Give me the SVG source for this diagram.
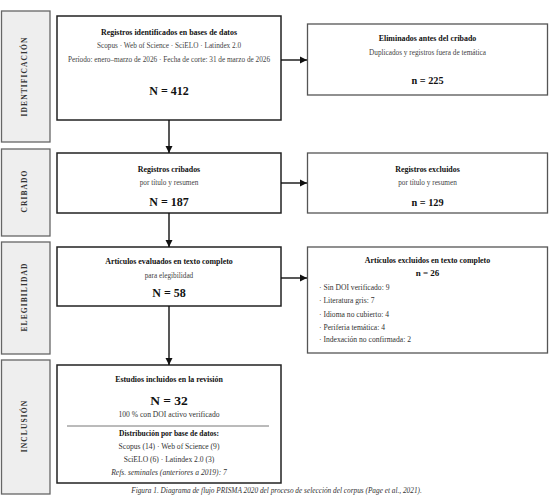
<svg xmlns="http://www.w3.org/2000/svg" width="553" height="502" viewBox="0 0 553 502">
<style>
.panel{fill:#eeeeee;stroke:#666;stroke-width:1.3}
.plabel{font-family:"Liberation Serif",serif;font-weight:bold;font-size:7.5px;letter-spacing:1.1px;fill:#333;text-anchor:middle}
.main{fill:#fff;stroke:#222;stroke-width:1.5}
.side{fill:#fff;stroke:#555;stroke-width:1.3}
text{font-family:"Liberation Serif",serif}
.t{font-weight:bold;font-size:7.9px;fill:#111;text-anchor:middle}
.s{font-size:7.25px;fill:#444;text-anchor:middle}
.big{font-weight:bold;font-size:12px;fill:#111;text-anchor:middle}
.mid{font-weight:bold;font-size:10.3px;fill:#111;text-anchor:middle}
.li{font-size:7.6px;fill:#333}
.d{font-size:7.6px;fill:#333;text-anchor:middle}
.conn{stroke:#111;stroke-width:1.4;fill:none}
</style>
<defs>
<marker id="ah" markerWidth="8" markerHeight="8" refX="7" refY="4" orient="auto" markerUnits="userSpaceOnUse">
<path d="M0,0.5 L7,4 L0,7.5 Z" fill="#111"/>
</marker>
</defs>
<rect width="553" height="502" fill="#fff"/>

<g id="panel-identificacion">
<rect class="panel" x="1.5" y="11" width="48.5" height="131"/>
<text class="plabel" transform="translate(26.5,76.5) rotate(-90)">IDENTIFICACIÓN</text>
</g>
<g id="panel-cribado">
<rect class="panel" x="1.5" y="149" width="48.5" height="87"/>
<text class="plabel" transform="translate(26.5,191) rotate(-90)">CRIBADO</text>
</g>
<g id="panel-elegibilidad">
<rect class="panel" x="1.5" y="242" width="48.5" height="112"/>
<text class="plabel" transform="translate(26.5,297) rotate(-90)">ELEGIBILIDAD</text>
</g>
<g id="panel-inclusion">
<rect class="panel" x="1.5" y="360" width="48.5" height="134"/>
<text class="plabel" transform="translate(26.5,426) rotate(-90)">INCLUSIÓN</text>
</g>

<g id="identificados">
<rect class="main" x="57" y="16" width="224" height="104"/>
<text class="t" x="169" y="35">Registros identificados en bases de datos</text>
<text class="s" x="169" y="48">Scopus · Web of Science · SciELO · Latindex 2.0</text>
<text class="s" x="169" y="62">Período: enero–marzo de 2026 · Fecha de corte: 31 de marzo de 2026</text>
<text class="big" x="169" y="94.5">N = 412</text>
</g>
<g id="eliminados">
<rect class="side" x="307.5" y="24" width="240" height="71"/>
<text class="t" x="427.5" y="41">Eliminados antes del cribado</text>
<text class="s" x="427.5" y="55">Duplicados y registros fuera de temática</text>
<text class="mid" x="427.5" y="84">n = 225</text>
</g>

<g id="cribados">
<rect class="main" x="57" y="153" width="224" height="60"/>
<text class="t" x="169" y="172">Registros cribados</text>
<text class="s" x="169" y="185">por título y resumen</text>
<text class="big" x="169" y="206">N = 187</text>
</g>
<g id="excluidos">
<rect class="side" x="307.5" y="153" width="240" height="60"/>
<text class="t" x="427.5" y="172">Registros excluidos</text>
<text class="s" x="427.5" y="185">por título y resumen</text>
<text class="mid" x="427.5" y="206">n = 129</text>
</g>

<g id="evaluados">
<rect class="main" x="57" y="247" width="224" height="59"/>
<text class="t" x="169" y="264">Artículos evaluados en texto completo</text>
<text class="s" x="169" y="278">para elegibilidad</text>
<text class="big" x="169" y="296.5">N = 58</text>
</g>
<g id="excluidos-texto">
<rect class="side" x="307.5" y="247" width="240" height="106"/>
<text class="t" x="427.5" y="263">Artículos excluidos en texto completo</text>
<text class="t" x="427.5" y="276" style="font-size:9px">n = 26</text>
<text class="li" x="319" y="290">· Sin DOI verificado: 9</text>
<text class="li" x="319" y="303">· Literatura gris: 7</text>
<text class="li" x="319" y="316.5">· Idioma no cubierto: 4</text>
<text class="li" x="319" y="329.5">· Periferia temática: 4</text>
<text class="li" x="319" y="342">· Indexación no confirmada: 2</text>
</g>

<g id="incluidos">
<rect class="main" x="57" y="365" width="224" height="118"/>
<text class="t" x="169" y="382">Estudios incluidos en la revisión</text>
<text class="big" x="169" y="405" style="font-size:13.5px">N = 32</text>
<text class="d" x="169" y="416.5">100 % con DOI activo verificado</text>
<line x1="67" y1="426" x2="269" y2="426" stroke="#777" stroke-width="1"/>
<text class="t" x="169" y="436" style="font-size:7.5px">Distribución por base de datos:</text>
<text class="d" x="169" y="449">Scopus (14) · Web of Science (9)</text>
<text class="d" x="169" y="461.5">SciELO (6) · Latindex 2.0 (3)</text>
<text class="d" x="169" y="474.5" font-style="italic">Refs. seminales (anteriores a 2019): 7</text>
</g>

<g id="connectors">
<line class="conn" x1="169" y1="120" x2="169" y2="153" marker-end="url(#ah)"/>
<line class="conn" x1="169" y1="213" x2="169" y2="247" marker-end="url(#ah)"/>
<line class="conn" x1="169" y1="306" x2="169" y2="365" marker-end="url(#ah)"/>
<line class="conn" x1="281" y1="60" x2="307" y2="60" marker-end="url(#ah)"/>
<line class="conn" x1="281" y1="183" x2="307" y2="183" marker-end="url(#ah)"/>
<line class="conn" x1="281" y1="278" x2="307" y2="278" marker-end="url(#ah)"/>
</g>

<text x="276.5" y="493" font-size="7.3px" font-style="italic" fill="#333" text-anchor="middle">Figura 1. Diagrama de flujo PRISMA 2020 del proceso de selección del corpus (Page et al., 2021).</text>
</svg>
